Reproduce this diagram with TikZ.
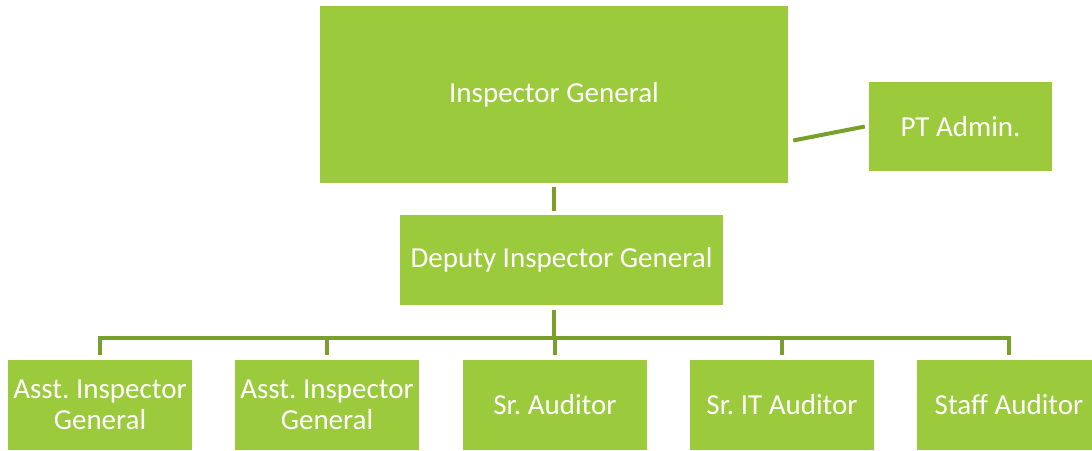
\documentclass[tikz,border=0pt]{standalone}
\usepackage{fontspec}
\setmainfont{Carlito}
\frenchspacing
\definecolor{boxgreen}{RGB}{155,203,60}
\definecolor{linegreen}{RGB}{122,160,44}
\begin{document}
\begin{tikzpicture}[x=1pt,y=-1pt,
  box/.style={fill=boxgreen, draw=none, text=white, inner sep=0pt,
    align=center, font=\fontsize{29}{30.5}\selectfont},
  lowbox/.style={box, minimum width=184pt, minimum height=90pt},
  conn/.style={draw=linegreen, line width=4pt, line join=miter}]
\useasboundingbox (0,0) rectangle (1092,450);

% boxes
\node[box, minimum width=468pt, minimum height=177pt] (ig) at (554,94.5) {Inspector General};
\node[box, minimum width=183pt, minimum height=89pt] (pt) at (960.5,126.5) {PT Admin.};
\node[box, minimum width=323pt, minimum height=90pt] (dig) at (561.5,260) {Deputy Inspector General};
\node[lowbox] (b1) at (100,405) {Asst. Inspector\\General};
\node[lowbox] (b2) at (327,405) {Asst. Inspector\\General};
\node[lowbox] (b3) at (555,405) {Sr. Auditor};
\node[lowbox] (b4) at (782,405) {Sr. IT Auditor};
\node[lowbox] (b5) at (1009,405) {Staff Auditor};

\coordinate (bus) at (554,338);

% connectors
\draw[conn] ([xshift=5pt,yshift=-46pt]ig.east) -- ([xshift=-4pt]pt.west);
\draw[conn] ([yshift=-4pt]ig.south) -- ([yshift=4pt]ig.south |- dig.north);
\draw[conn] ([yshift=-5pt]ig.south |- dig.south) -- (bus);
\draw[conn] ([yshift=5pt]b1.north) -- (b1.north |- bus) -- (b5.north |- bus) -- ([yshift=5pt]b5.north);
\draw[conn] (b2.north |- bus) -- ([yshift=5pt]b2.north);
\draw[conn] (b3.north |- bus) -- ([yshift=5pt]b3.north);
\draw[conn] (b4.north |- bus) -- ([yshift=5pt]b4.north);
\end{tikzpicture}
\end{document}
